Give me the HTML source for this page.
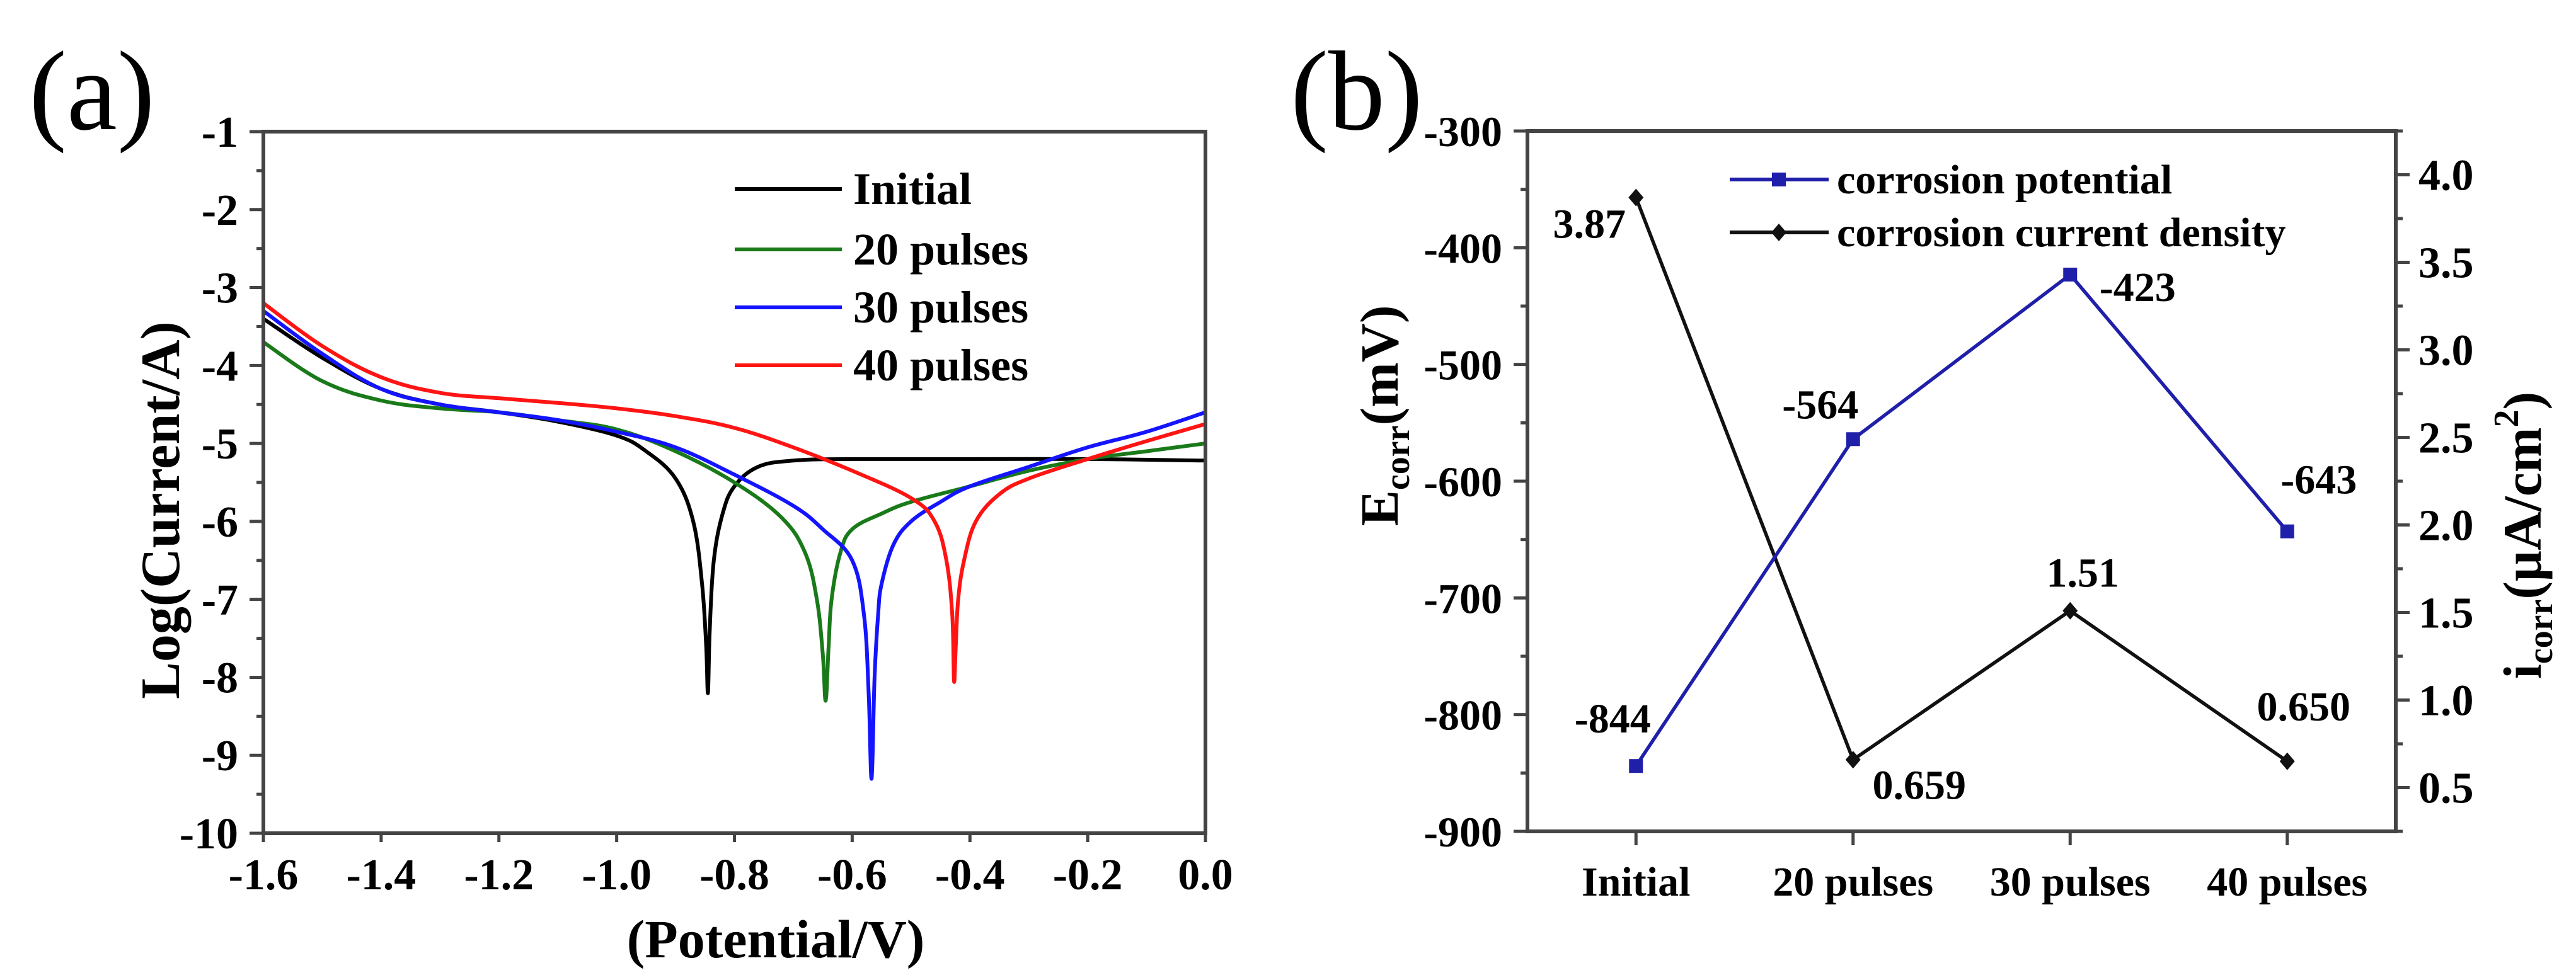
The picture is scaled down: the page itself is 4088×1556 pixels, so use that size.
<!DOCTYPE html>
<html><head><meta charset="utf-8"><style>
html,body{margin:0;padding:0;background:#fff;}
svg{display:block;font-family:"Liberation Serif",serif;font-weight:bold;}
</style></head><body>
<svg id="fig" width="4088" height="1556" viewBox="0 0 4088 1556" xmlns="http://www.w3.org/2000/svg">
<rect width="4088" height="1556" fill="#fff"/>
<g id="pa"></g>
<g id="pb"></g>
</svg>
<script>
// ---- Panel (a) data: potential (V) and log current ----
const initialX = [-1.6,-1.5,-1.4,-1.3,-1.2,-1.1,-1.0,-0.95,-0.9,-0.87,-0.855,-0.848,-0.845,-0.842,-0.835,-0.82,-0.8,-0.76,-0.7,-0.6,-0.4,-0.2,0];
const initialY = [-3.4,-3.9,-4.3,-4.5,-4.6,-4.72,-4.9,-5.1,-5.45,-6.0,-6.8,-7.6,-8.2,-7.4,-6.5,-5.9,-5.55,-5.3,-5.22,-5.2,-5.2,-5.2,-5.22];
const p20X = [-1.6,-1.5,-1.4,-1.3,-1.2,-1.1,-1.0,-0.9,-0.8,-0.72,-0.68,-0.66,-0.65,-0.645,-0.64,-0.635,-0.62,-0.6,-0.55,-0.5,-0.4,-0.3,-0.2,-0.1,0];
const p20Y = [-3.7,-4.2,-4.45,-4.55,-4.6,-4.7,-4.82,-5.1,-5.5,-5.95,-6.4,-7.0,-7.7,-8.3,-7.6,-7.0,-6.4,-6.1,-5.9,-5.75,-5.55,-5.35,-5.2,-5.1,-5.0];
const p30X = [-1.6,-1.5,-1.4,-1.3,-1.2,-1.1,-1.0,-0.9,-0.8,-0.7,-0.65,-0.6,-0.58,-0.572,-0.567,-0.562,-0.556,-0.55,-0.53,-0.5,-0.45,-0.4,-0.3,-0.2,-0.1,0];
const p30Y = [-3.3,-3.85,-4.3,-4.5,-4.6,-4.7,-4.85,-5.05,-5.4,-5.8,-6.1,-6.5,-7.2,-8.2,-9.3,-8.0,-7.2,-6.8,-6.3,-6.0,-5.75,-5.55,-5.3,-5.05,-4.85,-4.6];
const p40X = [-1.6,-1.5,-1.4,-1.3,-1.2,-1.1,-1.0,-0.9,-0.8,-0.7,-0.6,-0.5,-0.46,-0.44,-0.43,-0.427,-0.424,-0.42,-0.41,-0.39,-0.35,-0.3,-0.2,-0.1,0];
const p40Y = [-3.2,-3.75,-4.15,-4.35,-4.42,-4.48,-4.55,-4.65,-4.8,-5.05,-5.35,-5.7,-6.0,-6.5,-7.2,-8.05,-7.6,-7.0,-6.5,-6.0,-5.65,-5.45,-5.2,-4.97,-4.75];
const seriesNames = ["Initial","20 pulses","30 pulses","40 pulses"];
const xTicksA = [-1.6,-1.4,-1.2,-1.0,-0.8,-0.6,-0.4,-0.2,0.0];
const yTicksA = [-1,-2,-3,-4,-5,-6,-7,-8,-9,-10];
// ---- Panel (b) data ----
const categories = ["Initial","20 pulses","30 pulses","40 pulses"];
const ecorr = [-844,-564,-423,-643];
const icorr = [3.87,0.659,1.51,0.650];
const ecorrLabels = ["-844","-564","-423","-643"];
const icorrLabels = ["3.87","0.659","1.51","0.650"];
const leftTicksB = [-300,-400,-500,-600,-700,-800,-900];
const rightTicksB = [0.5,1.0,1.5,2.0,2.5,3.0,3.5,4.0];

const NS="http://www.w3.org/2000/svg";
function mk(parent,tag,attrs,text){const e=document.createElementNS(NS,tag);for(const k in attrs)e.setAttribute(k,attrs[k]);if(text!==undefined)e.textContent=text;parent.appendChild(e);return e;}
function smooth(pts){
  let d='M'+pts[0][0].toFixed(1)+','+pts[0][1].toFixed(1);
  for(let i=0;i<pts.length-1;i++){
    const p0=pts[Math.max(0,i-1)],p1=pts[i],p2=pts[i+1],p3=pts[Math.min(pts.length-1,i+2)];
    const k=0.18;
    const c1=[p1[0]+(p2[0]-p0[0])*k,p1[1]+(p2[1]-p0[1])*k];
    const c2=[p2[0]-(p3[0]-p1[0])*k,p2[1]-(p3[1]-p1[1])*k];
    d+=` C${c1[0].toFixed(1)},${c1[1].toFixed(1)} ${c2[0].toFixed(1)},${c2[1].toFixed(1)} ${p2[0].toFixed(1)},${p2[1].toFixed(1)}`;
  }
  return d;
}
const AX="#444";

// ===== Panel A =====
const pa=document.getElementById('pa');
const A={l:418,r:1913,t:209,b:1323};
const xa=v=>A.l+(v+1.6)/1.6*(A.r-A.l);
const ya=v=>A.t+(-1-v)/9*(A.b-A.t);
let t=mk(pa,'text',{x:46,y:205,'font-size':180,'font-weight':'normal'},'(a)');


const colorsA=["#000000","#1a7a1a","#1414ff","#ff1414"];
const dataA=[[initialX,initialY],[p20X,p20Y],[p30X,p30Y],[p40X,p40Y]];
[0,1,2,3].forEach(i=>{
  const pts=dataA[i][0].map((x,j)=>[xa(x),ya(dataA[i][1][j])]);
  const p=mk(pa,'path',{d:smooth(pts),fill:'none',stroke:colorsA[i],'stroke-width':6,'stroke-linejoin':'round'});
  
  
});
let fr=mk(pa,'rect',{x:A.l,y:A.t,width:A.r-A.l,height:A.b-A.t,fill:'none',stroke:AX,'stroke-width':6});


yTicksA.forEach(v=>{
  const y=ya(v);
  mk(pa,'line',{x1:A.l-22,x2:A.l,y1:y,y2:y,stroke:AX,'stroke-width':5});
  if(v>-10) mk(pa,'line',{x1:A.l-11,x2:A.l,y1:ya(v-0.5),y2:ya(v-0.5),stroke:AX,'stroke-width':5});
  const l=mk(pa,'text',{x:A.l-40,y:y+24,'font-size':70,'text-anchor':'end'},String(v));
  
  
});
xTicksA.forEach(v=>{
  const x=xa(v);
  mk(pa,'line',{x1:x,x2:x,y1:A.b,y2:A.b+14,stroke:AX,'stroke-width':5});
  const l=mk(pa,'text',{x:x,y:1412,'font-size':70,'text-anchor':'middle'},v.toFixed(1));
  
  
});
t=mk(pa,'text',{x:1231,y:1520,'font-size':86,'text-anchor':'middle'},'(Potential/V)');


t=mk(pa,'text',{x:0,y:0,'font-size':88,'text-anchor':'middle',transform:'translate(284,810) rotate(-90)'},'Log(Current/A)');


const legRowsA=[300,396,488,580];
seriesNames.forEach((n,i)=>{
  const g=mk(pa,'g',{});
  
  
  mk(g,'line',{x1:1166,x2:1336,y1:legRowsA[i],y2:legRowsA[i],stroke:colorsA[i],'stroke-width':6});
  mk(g,'text',{x:1354,y:legRowsA[i]+24,'font-size':72},n);
});

// ===== Panel B =====
const pb=document.getElementById('pb');
const B={l:2424,r:3802,t:208,b:1320};
const xb=i=>B.l+(i+0.5)/4*(B.r-B.l);
const yl=v=>B.t+(-300-v)/600*(B.b-B.t);
const yr=v=>B.t+(4.25-v)/4*(B.b-B.t);
t=mk(pb,'text',{x:2048,y:205,'font-size':180,'font-weight':'normal'},'(b)');


fr=mk(pb,'rect',{x:B.l,y:B.t,width:B.r-B.l,height:B.b-B.t,fill:'none',stroke:AX,'stroke-width':6});


leftTicksB.forEach(v=>{
  const y=yl(v);
  mk(pb,'line',{x1:B.l-22,x2:B.l,y1:y,y2:y,stroke:AX,'stroke-width':5});
  if(v>-900) mk(pb,'line',{x1:B.l-11,x2:B.l,y1:yl(v-50),y2:yl(v-50),stroke:AX,'stroke-width':5});
  const l=mk(pb,'text',{x:B.l-40,y:y+24,'font-size':68,'text-anchor':'end'},String(v));
  
  
});
rightTicksB.forEach(v=>{
  const y=yr(v);
  mk(pb,'line',{x1:B.r,x2:B.r+22,y1:y,y2:y,stroke:AX,'stroke-width':5});
  mk(pb,'line',{x1:B.r,x2:B.r+11,y1:yr(v+0.25),y2:yr(v+0.25),stroke:AX,'stroke-width':5});
  const l=mk(pb,'text',{x:B.r+36,y:y+24,'font-size':70},v.toFixed(1));
  
  
});
mk(pb,'line',{x1:B.r,x2:B.r+11,y1:yr(0.25),y2:yr(0.25),stroke:AX,'stroke-width':5});
categories.forEach((c,i)=>{
  const x=xb(i);
  mk(pb,'line',{x1:x,x2:x,y1:B.b,y2:B.b+22,stroke:AX,'stroke-width':5});
  const l=mk(pb,'text',{x:x,y:1422,'font-size':66,'text-anchor':'middle'},c);
  
  
});
let pth=mk(pb,'path',{d:icorr.map((v,i)=>(i?'L':'M')+xb(i)+','+yr(v)).join(' '),fill:'none',stroke:'#111','stroke-width':5.5});


pth=mk(pb,'path',{d:ecorr.map((v,i)=>(i?'L':'M')+xb(i)+','+yl(v)).join(' '),fill:'none',stroke:'#1f1faa','stroke-width':5.5});


ecorr.forEach((v,i)=>{
  const r=mk(pb,'rect',{x:xb(i)-11,y:yl(v)-11,width:22,height:22,fill:'#1f1faa'});
  
  
});
icorr.forEach((v,i)=>{
  const x=xb(i),y=yr(v);
  const d=mk(pb,'path',{d:`M${x},${y-14}L${x+12},${y}L${x},${y+14}L${x-12},${y}Z`,fill:'#111'});
  
  
});
const eOff=[[-37,-75],[-52,-55],[107,20],[50,-82]];
const iOff=[[-74,42],[105,40],[20,-60],[26,-87]];
ecorrLabels.forEach((s,i)=>{
  const l=mk(pb,'text',{x:xb(i)+eOff[i][0],y:yl(ecorr[i])+eOff[i][1]+22,'font-size':66,'text-anchor':'middle'},s);
  
  
});
icorrLabels.forEach((s,i)=>{
  const l=mk(pb,'text',{x:xb(i)+iOff[i][0],y:yr(icorr[i])+iOff[i][1]+22,'font-size':66,'text-anchor':'middle'},s);
  
  
});
let g=mk(pb,'g',{});


mk(g,'line',{x1:2745,x2:2902,y1:285,y2:285,stroke:'#1f1faa','stroke-width':6});
mk(g,'rect',{x:2812,y:274,width:22,height:22,fill:'#1f1faa'});
mk(g,'text',{x:2915,y:307,'font-size':66},'corrosion potential');
g=mk(pb,'g',{});


mk(g,'line',{x1:2745,x2:2902,y1:369,y2:369,stroke:'#111','stroke-width':6});
mk(g,'path',{d:'M2823,355L2835,369L2823,383L2811,369Z',fill:'#111'});
mk(g,'text',{x:2915,y:391,'font-size':66},'corrosion current density');
t=mk(pb,'text',{x:0,y:0,'font-size':86,'text-anchor':'middle',transform:'translate(2218,660) rotate(-90)'});


mk(t,'tspan',{},'E');
mk(t,'tspan',{'font-size':56,dy:18},'corr');
mk(t,'tspan',{dy:-18},'(mV)');
t=mk(pb,'text',{x:0,y:0,'font-size':86,'text-anchor':'middle',transform:'translate(4032,850) rotate(-90)'});


mk(t,'tspan',{},'i');
mk(t,'tspan',{'font-size':56,dy:18},'corr');
mk(t,'tspan',{dy:-18},'(μA/cm');
mk(t,'tspan',{'font-size':56,dy:-36},'2');
mk(t,'tspan',{dy:36},')');
</script>
</body></html>
